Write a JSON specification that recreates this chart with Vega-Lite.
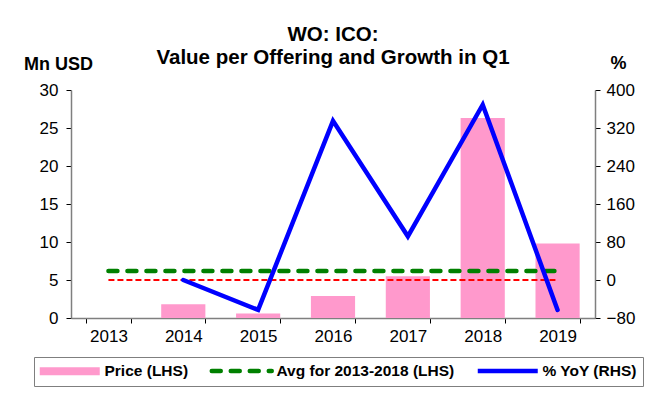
{
  "$schema": "https://vega.github.io/schema/vega-lite/v6.json",
  "width": 524,
  "height": 228,
  "autosize": {"type": "none"},
  "padding": {"left": 71, "top": 90, "right": 53, "bottom": 85},
  "background": "white",
  "title": {
    "text": "WO: ICO:",
    "subtitle": "Value per Offering and Growth in Q1",
    "fontSize": 20.5,
    "fontWeight": "bold",
    "font": "Liberation Sans",
    "subtitleFontSize": 20.5,
    "subtitleFontWeight": "bold",
    "subtitleFont": "Liberation Sans",
    "subtitleColor": "black",
    "subtitlePadding": 2.5,
    "anchor": "middle",
    "offset": -14,
    "color": "black"
  },
  "config": {
    "font": "Liberation Sans",
    "view": {"stroke": null},
    "axis": {
      "labelFont": "Liberation Sans",
      "labelFontSize": 17,
      "labelColor": "black",
      "domainColor": "#7f7f7f",
      "domainWidth": 1.5,
      "tickColor": "black",
      "tickSize": 5,
      "grid": false
    }
  },
  "data": {
    "values": [
      {"year": "2013", "price": 0, "avg": 6.18, "yoy": null},
      {"year": "2014", "price": 1.8, "avg": 6.18, "yoy": 0},
      {"year": "2015", "price": 0.6, "avg": 6.18, "yoy": -63},
      {"year": "2016", "price": 2.9, "avg": 6.18, "yoy": 335},
      {"year": "2017", "price": 5.5, "avg": 6.18, "yoy": 92},
      {"year": "2018", "price": 26.3, "avg": 6.18, "yoy": 369},
      {"year": "2019", "price": 9.8, "avg": 6.18, "yoy": -63}
    ]
  },
  "encoding": {
    "x": {
      "field": "year",
      "type": "ordinal",
      "scale": {"paddingInner": 0.41, "paddingOuter": 0.205},
      "axis": {"title": null, "labelAngle": 0, "tickBand": "extent", "labelPadding": 5, "domainColor": "#7f7f7f"}
    }
  },
  "layer": [
    {
      "encoding": {
        "y": {
          "type": "quantitative",
          "scale": {"domain": [0, 30], "nice": false, "zero": false},
          "axis": {
            "orient": "left",
            "values": [0, 5, 10, 15, 20, 25, 30],
            "title": "Mn USD",
            "titleAngle": 0,
            "titleAlign": "center",
            "titleBaseline": "alphabetic",
            "titleX": -13,
            "titleY": -21,
            "titleFontSize": 18,
            "titleFontWeight": "bold",
            "titleColor": "black",
            "labelPadding": 8
          }
        }
      },
      "layer": [
        {
          "mark": {"type": "bar", "color": "#FF99CC"},
          "encoding": {
            "y": {"field": "price"},
            "color": {"datum": "Price (LHS)"}
          }
        },
        {
          "mark": {"type": "line", "strokeWidth": 4.5, "strokeDash": [9, 10], "strokeCap": "round"},
          "encoding": {
            "y": {"field": "avg"},
            "color": {"datum": "Avg for 2013-2018 (LHS)"}
          }
        }
      ]
    },
    {
      "encoding": {
        "y": {
          "type": "quantitative",
          "scale": {"domain": [-80, 400], "nice": false, "zero": false},
          "axis": {
            "orient": "right",
            "values": [-80, 0, 80, 160, 240, 320, 400],
            "title": "%",
            "titleAngle": 0,
            "titleAlign": "center",
            "titleBaseline": "alphabetic",
            "titleX": 23,
            "titleY": -22,
            "titleFontSize": 18,
            "titleFontWeight": "bold",
            "titleColor": "black",
            "labelPadding": 6
          }
        }
      },
      "layer": [
        {
          "mark": {"type": "line", "color": "#FF0000", "strokeWidth": 2, "strokeDash": [6, 3]},
          "encoding": {"y": {"datum": 0}}
        },
        {
          "mark": {"type": "line", "strokeWidth": 4.5, "strokeCap": "round", "strokeJoin": "miter"},
          "encoding": {
            "y": {"field": "yoy"},
            "color": {
              "datum": "% YoY (RHS)",
              "scale": {
                "domain": ["Price (LHS)", "Avg for 2013-2018 (LHS)", "% YoY (RHS)"],
                "range": ["#FF99CC", "#008000", "#0000FF"]
              },
              "legend": {
                "title": null,
                "orient": "none",
                "direction": "horizontal",
                "legendX": -37,
                "legendY": 267,
                "strokeColor": "#7f7f7f",
                "padding": 6,
                "labelFontSize": 15.5,
                "labelFontWeight": "bold",
                "labelColor": "black",
                "labelFont": "Liberation Sans",
                "labelLimit": 400,
                "labelOffset": 27,
                "symbolOffset": 22,
                "columnPadding": 13,
                "symbolSize": 256,
                "encode": {
                  "symbols": {
                    "update": {
                      "shape": {"signal": "datum.value === 'Price (LHS)' ? 'M-3.75,-0.5H3.75V0.5H-3.75Z' : 'M-3.75,0H3.75'"},
                      "fill": {"signal": "datum.value === 'Price (LHS)' ? '#FF99CC' : 'transparent'"},
                      "stroke": {"signal": "datum.value === '% YoY (RHS)' ? '#0000FF' : '#008000'"},
                      "strokeWidth": {"signal": "datum.value === 'Price (LHS)' ? 0 : 4.5"},
                      "strokeDash": {"signal": "datum.value === 'Avg for 2013-2018 (LHS)' ? [9, 10] : [1, 0]"},
                      "strokeCap": {"signal": "datum.value === 'Avg for 2013-2018 (LHS)' ? 'round' : 'butt'"},
                      "opacity": {"value": 1}
                    }
                  }
                }
              }
            }
          }
        }
      ]
    }
  ],
  "resolve": {"scale": {"y": "independent"}}
}
